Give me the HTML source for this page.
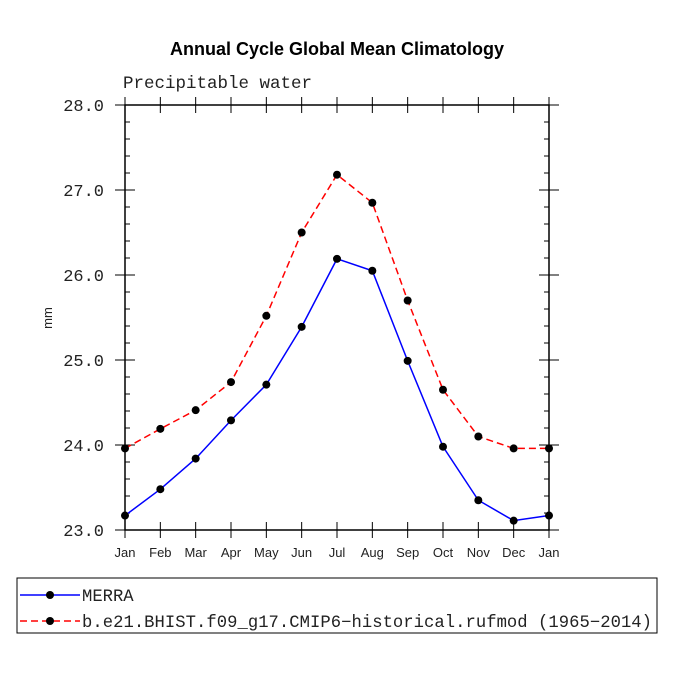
<!DOCTYPE html>
<html><head><meta charset="utf-8"><style>body{margin:0;background:#fff}svg{display:block}</style></head>
<body>
<svg id="c" width="675" height="675" xmlns="http://www.w3.org/2000/svg" font-family="'Liberation Sans', sans-serif">
<text x="337" y="55" text-anchor="middle" font-size="18" font-weight="bold">Annual Cycle Global Mean Climatology</text>
<text x="123" y="88" font-size="17.5" fill="#222" font-family="'Liberation Mono', monospace">Precipitable water</text>
<text x="52" y="318" font-size="13" fill="#222" transform="rotate(-90 52 318)" text-anchor="middle">mm</text>
<g id="axes"></g><g id="series"></g>
<rect x="17" y="578" width="640" height="55" fill="none" stroke="#000" stroke-width="1"/>
<g>
<line x1="20" y1="595" x2="80" y2="595" stroke="#0000ff" stroke-width="1.5"/><circle cx="50" cy="595" r="4"/>
<text x="82" y="601" font-size="17.2" fill="#222" font-family="'Liberation Mono', monospace">MERRA</text></g>
<g>
<line x1="20" y1="621" x2="80" y2="621" stroke="#ff0000" stroke-width="1.5" stroke-dasharray="7,4"/><circle cx="50" cy="621" r="4"/>
<text x="82" y="627" font-size="17.2" fill="#222" font-family="'Liberation Mono', monospace" textLength="570">b.e21.BHIST.f09_g17.CMIP6−historical.rufmod (1965−2014)</text></g>
</svg>
<script>
const months=["Jan","Feb","Mar","Apr","May","Jun","Jul","Aug","Sep","Oct","Nov","Dec","Jan"];
const merra=[23.17,23.48,23.84,24.29,24.71,25.39,26.19,26.05,24.99,23.98,23.35,23.11,23.17];
const model=[23.96,24.19,24.41,24.74,25.52,26.50,27.18,26.85,25.70,24.65,24.10,23.96,23.96];
const yTicks=[23,24,25,26,27,28];
const NS="http://www.w3.org/2000/svg";
const L=125,R=549,T=105,B=530,ymin=23,ymax=28;
const xs=i=>L+(R-L)*i/(months.length-1);
const ys=v=>B-(v-ymin)/(ymax-ymin)*(B-T);
function mk(t,a,p){const e=document.createElementNS(NS,t);for(const k in a)e.setAttribute(k,a[k]);p.appendChild(e);return e;}
const ax=document.getElementById('axes');
const frame=mk('rect',{x:L,y:T,width:R-L,height:B-T,fill:'none',stroke:'#000','stroke-width':1.5},ax);


for(let v=ymin;v<=ymax+1e-9;v+=0.2){const y=ys(v);const major=Math.abs(v-Math.round(v))<1e-6;
 const len=major?10:5;
 mk('line',{x1:L-(major?10:0),x2:L+len,y1:y,y2:y,stroke:'#000','stroke-width':1},ax);
 mk('line',{x1:R+(major?10:0),x2:R-len,y1:y,y2:y,stroke:'#000','stroke-width':1},ax);}
yTicks.forEach(v=>{const t=mk('text',{x:L-21,y:ys(v)+6,'text-anchor':'end','font-size':17,fill:'#222','font-family':"'Liberation Mono', monospace"},ax);t.textContent=v.toFixed(1);
 
 });
months.forEach((m,i)=>{const x=xs(i);
 mk('line',{x1:x,x2:x,y1:B+8,y2:B-8,stroke:'#000','stroke-width':1},ax);
 mk('line',{x1:x,x2:x,y1:T-8,y2:T+8,stroke:'#000','stroke-width':1},ax);
 const t=mk('text',{x:x,y:B+27,'text-anchor':'middle','font-size':13,fill:'#222'},ax);t.textContent=m;
 
 });
const sg=document.getElementById('series');
function draw(vals,color,dash,name){const g=mk('g',{},sg);
 
 
 const pts=vals.map((v,i)=>xs(i)+','+ys(v)).join(' ');
 const a={points:pts,fill:'none',stroke:color,'stroke-width':1.5};if(dash)a['stroke-dasharray']=dash;mk('polyline',a,g);
 vals.forEach((v,i)=>{const c=mk('circle',{cx:xs(i),cy:ys(v),r:4,fill:'#000'},g);
  
  });}
draw(model,'#ff0000','7,4','series-model');
draw(merra,'#0000ff',null,'series-merra');
</script>
</body></html>
